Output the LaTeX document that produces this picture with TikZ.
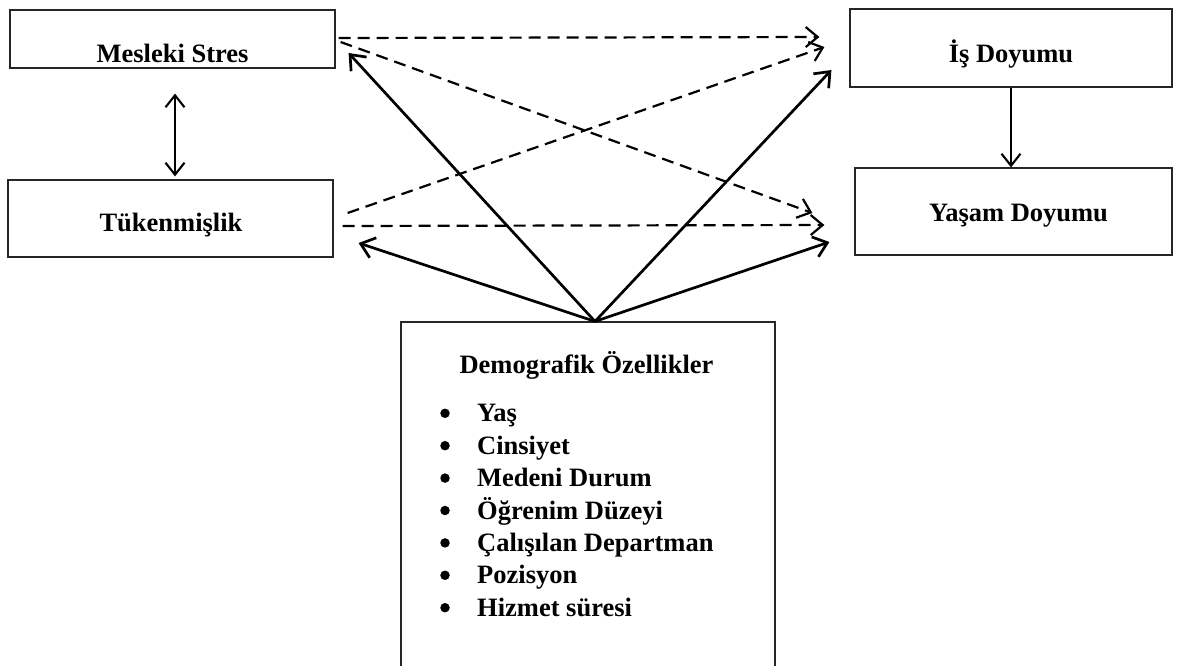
\documentclass[tikz,border=0pt]{standalone}
\usepackage{fontspec}
\setmainfont{Liberation Serif}
\usetikzlibrary{positioning,arrows.meta,calc}
\tikzset{kutu/.style={draw=black!85, line width=1.2pt, inner sep=0pt}}
\tikzset{yazi/.style={font=\fontsize{26.5}{32}\selectfont\bfseries, anchor=base, inner sep=0pt}}
\tikzset{nokta/.style={circle, fill=black, inner sep=0pt, minimum size=9.5pt}}
\tikzset{ok/.style={line width=2.7pt, -{Straight Barb[length=13pt,width=21pt]}}}
\tikzset{kesik/.style={line width=2.2pt, dash pattern=on 12pt off 7pt, -{Straight Barb[length=12pt,width=20pt]}}}
\tikzset{ince/.style={line width=2.1pt}}

\begin{document}
\begin{tikzpicture}[x=1pt, y=-1pt]
            \useasboundingbox (0,0) rectangle (1179,666);
            \node[kutu, minimum width=325pt, minimum height=58pt] (ms) at (172.5,39) {};
            \node[kutu, minimum width=322pt, minimum height=78pt] (is) at (1011,48) {};
            \node[kutu, minimum width=325pt, minimum height=77pt] (tk) at (170.5,218.5) {};
            \node[kutu, minimum width=317pt, minimum height=87pt] (yd) at (1013.5,211.5) {};
            \node[kutu, minimum width=374pt, minimum height=352pt] (dem) at (588,498) {};

            \begin{scope}
                \clip (ms.north west) rectangle ($(ms.south east)+(0,-6.2)$);
                \node[yazi] (msy) at (172.5,62.5) {Mesleki Stres};
            \end{scope}
            \node[yazi] (isy) at (1011,63) {İş Doyumu};
            \node[yazi] (tky) at (171,232) {Tükenmişlik};
            \node[yazi] (ydy) at (1018.5,222) {Yaşam Doyumu};
            \node[yazi] (demy) at (586.5,373) {Demografik Özellikler};
            \foreach \madde [count=\i] in {Yaş, Cinsiyet, Medeni Durum, Öğrenim Düzeyi, Çalışılan Departman, Pozisyon, Hizmet süresi} {
                \node[nokta] (nok\i) at (445,380.9+32.4*\i) {};
                \node[yazi, anchor=base west] (m\i) at (477,389.4+32.4*\i) {\madde};
            }

            \coordinate (tepe) at ($(dem.north)+(7,0)$);
            \draw[kesik] ($(ms.east)+(3,-1)$) -- ($(is.west)+(-30,-11)$);
            \draw[kesik] ($(ms.east)+(5,3)$) -- ($(yd.west)+(-42,1.5)$);
            \draw[kesik] ($(tk.east)+(14,-5.5)$) -- ($(is.west)+(-25,-1)$);
            \draw[kesik] ($(tk.east)+(9,7.5)$) -- ($(yd.west)+(-30,13.5)$);
            \draw[ok] (tepe) -- ($(ms.east)+(13,14)$);
            \draw[ok] (tepe) -- ($(is.west)+(-18,22)$);
            \draw[ok] (tepe) -- ($(tk.east)+(25,24.5)$);
            \draw[ok] (tepe) -- ($(yd.west)+(-25,30.5)$);
            \draw[ince, {Straight Barb[length=12pt,width=19pt]}-{Straight Barb[length=12pt,width=19pt]}] ($(ms.south)+(2.5,25)$) -- ($(tk.north)+(4.5,-3)$);
            \draw[ince, -{Straight Barb[length=12pt,width=19pt]}] (is.south) -- (is.south |- yd.north);
        \end{tikzpicture}
\end{document}
